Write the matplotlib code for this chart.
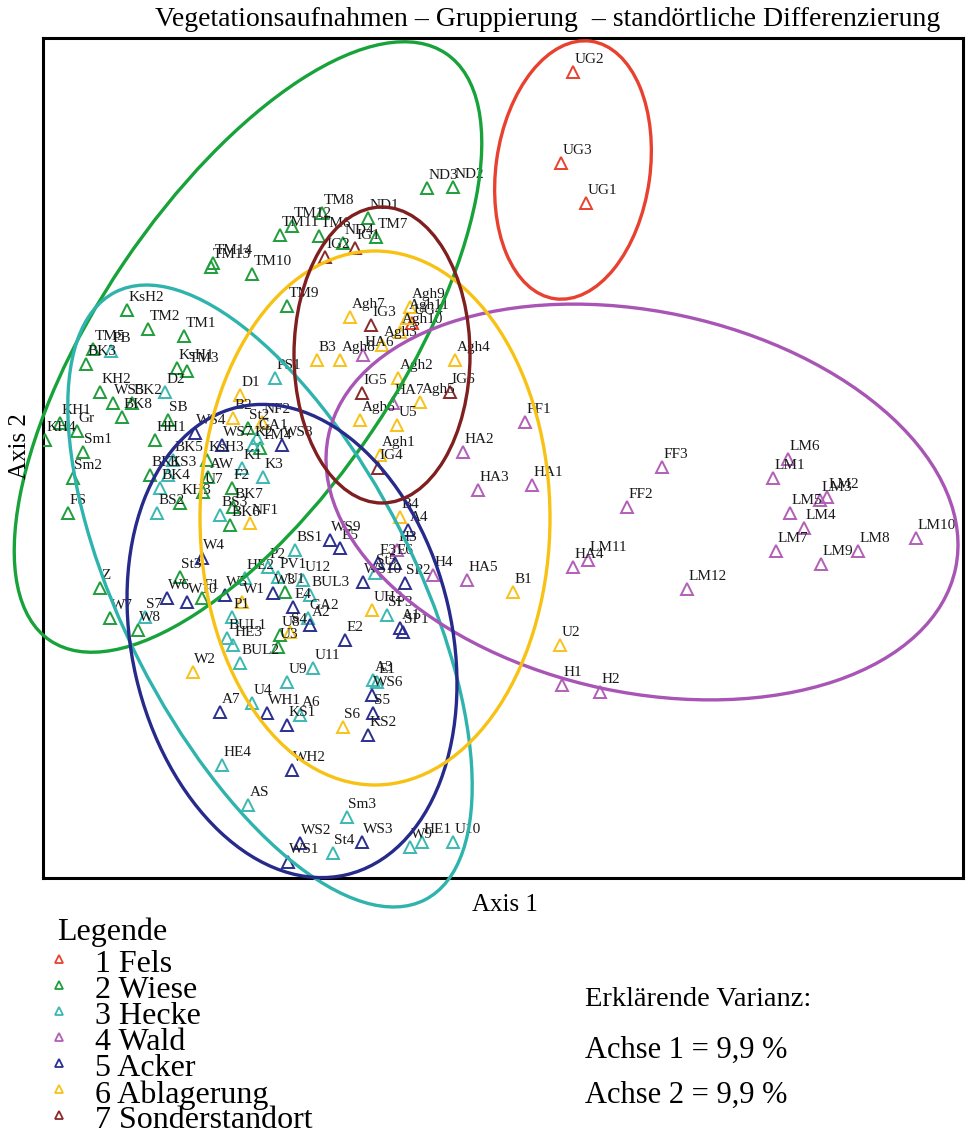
import matplotlib
matplotlib.use("Agg")
import matplotlib.pyplot as plt
from matplotlib.patches import Ellipse
from matplotlib.lines import Line2D

plt.rcParams['font.family'] = ['Liberation Serif', 'DejaVu Serif']

# ---- ordination scores (axis units) per site group ----
fels_labels = ["UG2", "UG3", "UG1", "UG4"]
fels_x = [530, 518, 543, 369]
fels_y = [806, 715, 675, 555]

wiese_labels = ["ND3", "ND2", "TM8", "ND1", "TM12", "TM11", "TM6", "ND4", "TM7",
                "TM14", "TM13", "TM10", "TM9", "KsH2", "TM2", "TM1", "TM5", "BK3",
                "KsH1", "TM3", "KH2", "WS5", "BK2", "BK8", "SB", "KH1", "KH4", "Gr",
                "Sm1", "Sm2", "FS", "HH1", "BK1", "KH3", "KsH3", "AW", "U7", "F2",
                "BK7", "BK6", "St2", "TM4", "Z", "W7", "W8", "St3", "F1", "U1",
                "U8", "U3"]
wiese_x = [384, 410, 279, 325, 249, 237, 276, 300, 333,
           170, 168, 209, 244, 84, 105, 141, 50, 43,
           134, 144, 57, 70, 89, 79, 125, 17, 2, 34,
           40, 30, 25, 112, 107, 137, 164, 165, 160, 189,
           190, 187, 205, 217, 57, 67, 95, 137, 159, 242,
           237, 235]
wiese_y = [690, 691, 665, 660, 652, 643, 642, 635, 641,
           615, 611, 604, 572, 568, 549, 542, 529, 514,
           510, 507, 486, 475, 475, 461, 458, 455, 438, 447,
           426, 400, 365, 438, 403, 375, 418, 401, 386, 390,
           371, 353, 450, 430, 290, 260, 248, 301, 280, 286,
           243, 231]

hecke_labels = ["PB", "D2", "PS1", "GA1", "K2", "K1", "K3", "BK5", "KS3", "BK4",
                "BS2", "BS3", "BS1", "S7", "HE2", "P2", "PV1", "U12", "P1", "BUL1",
                "HE3", "BUL2", "GA2", "BUL3", "SP3", "St5", "A3", "E1", "U11", "U9",
                "U4", "A6", "HE4", "AS", "Sm3", "St4", "W9", "HE1", "U10"]
hecke_x = [68, 122, 232, 214, 210, 199, 220, 130, 125, 117,
           114, 177, 252, 102, 202, 225, 235, 260, 189, 184,
           190, 197, 265, 267, 344, 332, 330, 334, 270, 244,
           209, 257, 179, 205, 304, 290, 367, 379, 410]
hecke_y = [527, 486, 500, 440, 433, 410, 401, 418, 403, 390,
           365, 363, 328, 261, 300, 311, 301, 298, 261, 240,
           233, 215, 260, 283, 263, 305, 198, 196, 210, 196,
           175, 163, 113, 73, 61, 25, 31, 36, 36]

wald_labels = ["HA6", "HA7", "FF1", "HA2", "HA3", "HA1", "H3", "H4", "HA5", "HA4",
               "LM11", "H1", "H2", "FF3", "FF2", "LM6", "LM1", "LM2", "LM3", "LM5",
               "LM4", "LM7", "LM9", "LM8", "LM10", "LM12"]
wald_x = [320, 350, 482, 420, 435, 489, 354, 390, 424, 530,
          545, 519, 557, 619, 584, 745, 730, 784, 777, 747,
          761, 733, 778, 815, 873, 644]
wald_y = [523, 475, 456, 426, 388, 393, 328, 303, 298, 311,
          318, 193, 186, 411, 371, 419, 400, 381, 378, 365,
          350, 327, 314, 327, 340, 289]

acker_labels = ["WS4", "WS7", "WS8", "WS9", "E5", "A4", "E3", "E6", "WS10", "SP2",
                "A1", "SP1", "E2", "A2", "E4", "W3", "W4", "W6", "W10", "W5",
                "A7", "WH1", "KS1", "WH2", "WS6", "S5", "KS2", "WS2", "WS3", "WS1"]
acker_x = [152, 179, 239, 287, 297, 365, 335, 352, 320, 362,
           357, 360, 302, 267, 250, 230, 159, 124, 144, 182,
           177, 224, 244, 249, 329, 330, 325, 257, 319, 245]
acker_y = [445, 433, 433, 338, 330, 348, 315, 315, 296, 295,
           250, 246, 238, 253, 271, 285, 320, 280, 276, 283,
           166, 165, 153, 108, 183, 165, 143, 35, 36, 16]

ablag_labels = ["Agh7", "Agh9", "Agh11", "Agh10", "Agh3", "B3", "Agh8", "Agh4", "Agh2",
                "Agh5", "Agh6", "U5", "Agh1", "D1", "B2", "NF2", "NF1", "B4", "W1",
                "UH2", "S4", "W2", "S6", "B1", "U2"]
ablag_x = [307, 367, 364, 357, 339, 274, 297, 412, 355,
           377, 317, 354, 337, 197, 190, 219, 207, 357, 199,
           329, 247, 150, 300, 470, 517]
ablag_y = [561, 571, 560, 546, 533, 518, 518, 518, 500,
           476, 458, 453, 423, 483, 460, 456, 355, 361, 276,
           268, 246, 206, 151, 286, 233]

sonder_labels = ["IG2", "IG1", "IG3", "IG5", "IG6", "IG4"]
sonder_x = [282, 312, 328, 319, 407, 335]
sonder_y = [621, 630, 553, 485, 486, 410]

# ---- group ellipses: centre x, centre y, major, minor, angle (deg) ----
ell_cx = [530, 205, 227, 599, 249, 332, 339]
ell_cy = [708, 531, 282, 376, 237, 360, 523]
ell_major = [260, 708, 682, 641, 480, 534, 296]
ell_minor = [154, 300, 292, 381, 320, 350, 176]
ell_angle = [82, 56, -63, -12, 103, 90, 90]

group_names = ["1 Fels", "2 Wiese", "3 Hecke", "4 Wald", "5 Acker",
               "6 Ablagerung", "7 Sonderstandort"]
point_colors = ["#e8432e", "#1f9e3c", "#3cb8b2", "#b25fb8", "#2b2f8f",
                "#f7c21a", "#8b2a2a"]
ellipse_colors = ["#e8412f", "#17a23a", "#2fb3ad", "#a855b5", "#262a8a",
                  "#f8c215", "#7f1f1f"]

groups = [
    (fels_labels, fels_x, fels_y),
    (wiese_labels, wiese_x, wiese_y),
    (hecke_labels, hecke_x, hecke_y),
    (wald_labels, wald_x, wald_y),
    (acker_labels, acker_x, acker_y),
    (ablag_labels, ablag_x, ablag_y),
    (sonder_labels, sonder_x, sonder_y),
]

W, H = 966, 1134
fig = plt.figure(figsize=(W / 100, H / 100), dpi=100)
ax = fig.add_axes([43 / W, 1 - 878 / H, 920 / W, 840 / H])
ax.set_xlim(0, 920)
ax.set_ylim(0, 840)
ax.set_xticks([])
ax.set_yticks([])
for sp in ax.spines.values():
    sp.set_linewidth(2.2)
    sp.set_color("black")

for (labels, xs, ys), col in zip(groups, point_colors):
    ax.plot(xs, ys, linestyle="none", marker="^", markersize=8.5,
            markerfacecolor="none", markeredgecolor=col, markeredgewidth=1.4,
            zorder=3)
    for lab, x, y in zip(labels, xs, ys):
        ax.annotate(lab, (x, y), xytext=(1, 9), textcoords="offset points",
                    fontsize=11, ha="left", va="center", color="#1a1a1a",
                    zorder=4, annotation_clip=False)

for cx, cy, a, b, ang, col in zip(ell_cx, ell_cy, ell_major, ell_minor,
                                  ell_angle, ellipse_colors):
    e = Ellipse((cx, cy), a, b, angle=ang, fill=False, edgecolor=col,
                linewidth=2.4, zorder=5, clip_on=False)
    ax.add_patch(e)

# ---- titles and axis captions ----
fig.text(940 / W, 1 - 19 / H,
         "Vegetationsaufnahmen \u2013 Gruppierung  \u2013 standörtliche Differenzierung",
         ha="right", va="center", fontsize=20)
fig.text(505 / W, 1 - 905 / H, "Axis 1", ha="center", va="center", fontsize=18)
fig.text(20 / W, 1 - 446 / H, "Axis 2", ha="center", va="center",
         rotation=90, fontsize=18)

# ---- legend ----
fig.text(57 / W, 1 - 932 / H, "Legende", ha="left", va="center", fontsize=23)
leg_y = [965, 991, 1017, 1043, 1069, 1095, 1121]
for name, col, y in zip(group_names, point_colors, leg_y):
    fig.add_artist(Line2D([59 / W], [1 - (y - 6) / H], transform=fig.transFigure,
                          linestyle="none", marker="^", markersize=6,
                          markerfacecolor="none", markeredgecolor=col,
                          markeredgewidth=1.3))
    fig.text(95 / W, 1 - y / H, name, ha="left", va="center", fontsize=23)

fig.text(585 / W, 1 - 1000 / H, "Erklärende Varianz:", ha="left", va="center",
         fontsize=20.5)
fig.text(585 / W, 1 - 1050 / H, "Achse 1 = 9,9 %", ha="left", va="center",
         fontsize=22)
fig.text(585 / W, 1 - 1095 / H, "Achse 2 = 9,9 %", ha="left", va="center",
         fontsize=22)

fig.savefig("out.png", dpi=100)
